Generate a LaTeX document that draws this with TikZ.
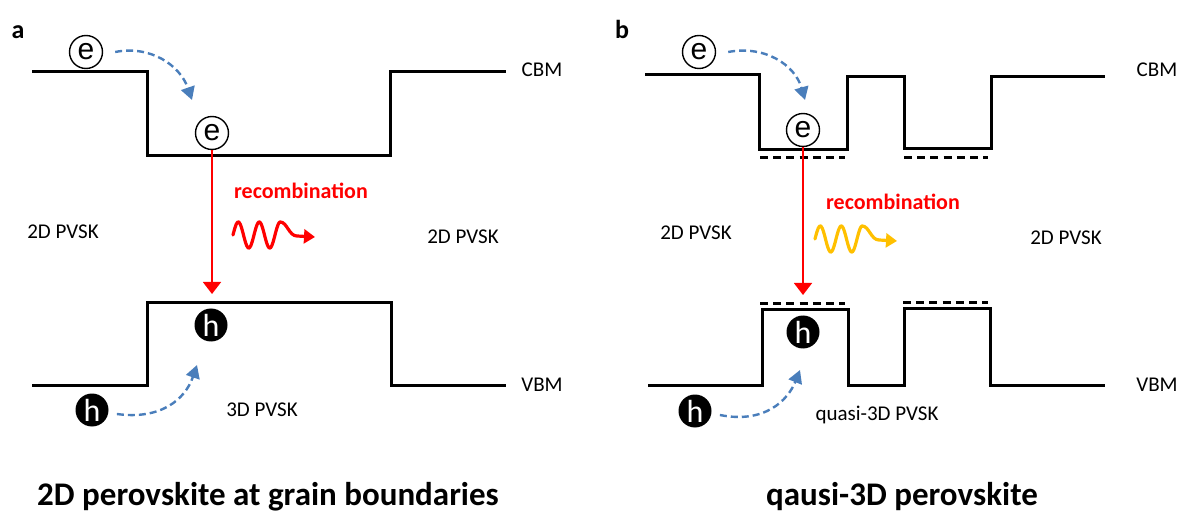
\documentclass[tikz,border=0pt]{standalone}
\usepackage{fontspec}
\setmainfont{Carlito}
\newfontfamily\arialfont{Liberation Sans}
\usepackage{xcolor}
\usepackage{tikz}
\usetikzlibrary{arrows.meta, positioning}
\definecolor{hopblue}{HTML}{4A7EBB}
\definecolor{glow}{HTML}{FFC000}
\definecolor{recred}{HTML}{FF0000}

\begin{document}
\begin{tikzpicture}[x=0.5pt, y=-0.5pt,
    band/.style={line width=1.5pt, line join=miter},
    level/.style={line width=1.5pt, dash pattern=on 4pt off 2.6pt},
    elec/.style={circle, draw, line width=0.7pt, fill=white, minimum size=16.5pt, inner sep=0pt, font=\arialfont\fontsize{15}{15}\selectfont},
    hole/.style={circle, fill=black, text=white, minimum size=16.5pt, inner sep=0pt, font=\fontsize{16}{16}\selectfont},
    hop/.style={hopblue, line width=1.2pt, dash pattern=on 3.5pt off 2pt, -{Triangle[length=6.5pt,width=7pt]}},
    drop/.style={recred, line width=0.8pt, -{Triangle[length=6pt,width=9pt]}},
    wave/.style={line width=1.6pt, line cap=round, -{Triangle[length=5.5pt,width=7pt]}},
    lbl/.style={inner sep=0pt, font=\fontsize{10.5}{12}\selectfont},
    reclbl/.style={inner sep=0pt, text=recred, font=\fontsize{11}{12}\selectfont\bfseries},
    title/.style={inner sep=0pt, anchor=base, font=\fontsize{16.5}{18}\selectfont\bfseries}]
  \useasboundingbox (0,0) rectangle (1178,513);

  % ---- panel a ----
  % Bands
  \draw[band] (32,72) -- (147,72) -- (147,156) -- (390,156) -- (390,72) -- (506,72);
  \draw[band] (32,385) -- (147,385) -- (147,303) -- (391,303) -- (391,385) -- (506,385);
  % Carriers
  \node[elec] (eTopA) at (86,52) {e};
  \node[elec] (eWellA) at (212,133) {e};
  \node[hole] (hWellA) at (211,325) {h};
  \node[hole] (hLowA) at (92,410) {h};
  \coordinate (eEndA) at (192,100);
  \coordinate (hEndA) at (197,365);
  \coordinate (recEndA) at (212,294);
  % Transfer and recombination
  \draw[hop] ([xshift=6pt]eTopA.east) .. controls (150,45) and (180,65) .. (eEndA);
  \draw[hop] ([xshift=4pt,yshift=-2pt]hLowA.east) .. controls (160,420) and (185,400) .. (hEndA);
  \draw[drop] (eWellA.south) -- (recEndA);
  \draw[wave, recred] plot[domain=0:2.25, samples=60, smooth] ({233+21*\x},{235-13*sin(360*\x)})
    .. controls (287,222) and (289,236) .. (297,236) -- (315,237);
  % Labels
  \node[inner sep=0pt, anchor=base, font=\fontsize{13}{14}\selectfont\bfseries] (tagA) at (18,39) {a};
  \node[lbl] (cbmA) at (542,70) {CBM};
  \node[lbl] (vbmA) at (542,385) {VBM};
  \node[lbl] (leftA) at (63,232) {2D PVSK};
  \node[lbl] (rightA) at (463,237) {2D PVSK};
  \node[lbl] (bulkA) at (262,410) {3D PVSK};
  \node[reclbl] (recA) at (301,191) {recombination};
  \node[title] (titleA) at (268,505) {2D perovskite at grain boundaries};

  % ---- panel b ----
  % Bands
  \draw[band] (645,75) -- (759,75) -- (759,150) -- (847,150) -- (847,77) -- (904,77)
    -- (904,149) -- (991,149) -- (991,77) -- (1105,77);
  \draw[band] (648,385) -- (762,385) -- (762,310) -- (848,310) -- (848,385) -- (904,385)
    -- (904,309) -- (990,309) -- (990,385) -- (1105,385);
  % Quantum levels
  \draw[level] (760,158) -- (845,158);
  \draw[level] (904,158) -- (988,158);
  \draw[level] (760,304) -- (845,304);
  \draw[level] (903,303) -- (988,303);
  % Carriers
  \node[elec] (eTopB) at (699,52) {e};
  \node[elec] (eWellB) at (803,130) {e};
  \node[hole] (hWellB) at (803,332) {h};
  \node[hole] (hLowB) at (695,411) {h};
  \coordinate (eEndB) at (805,100);
  \coordinate (hEndB) at (800,370);
  \coordinate (recEndB) at (803,295);
  % Transfer and recombination
  \draw[hop] ([xshift=6pt]eTopB.east) .. controls (765,45) and (795,65) .. (eEndB);
  \draw[hop] ([xshift=4pt,yshift=-2pt]hLowB.east) .. controls (765,424) and (788,400) .. (hEndB);
  \draw[drop] (eWellB.south) -- (recEndB);
  \draw[wave, glow] plot[domain=0:2.25, samples=60, smooth] ({815+21*\x},{239-13*sin(360*\x)})
    .. controls (869,226) and (871,240) .. (879,240) -- (897,241);
  % Labels
  \node[inner sep=0pt, anchor=base, font=\fontsize{13}{14}\selectfont\bfseries] (tagB) at (622,39) {b};
  \node[lbl] (cbmB) at (1157,70) {CBM};
  \node[lbl] (vbmB) at (1157,385) {VBM};
  \node[lbl] (leftB) at (696,233) {2D PVSK};
  \node[lbl] (rightB) at (1066,238) {2D PVSK};
  \node[lbl] (bulkB) at (877,415) {quasi-3D PVSK};
  \node[reclbl] (recB) at (893,202) {recombination};
  \node[title] (titleB) at (902,505) {qausi-3D perovskite};
\end{tikzpicture}
\end{document}
